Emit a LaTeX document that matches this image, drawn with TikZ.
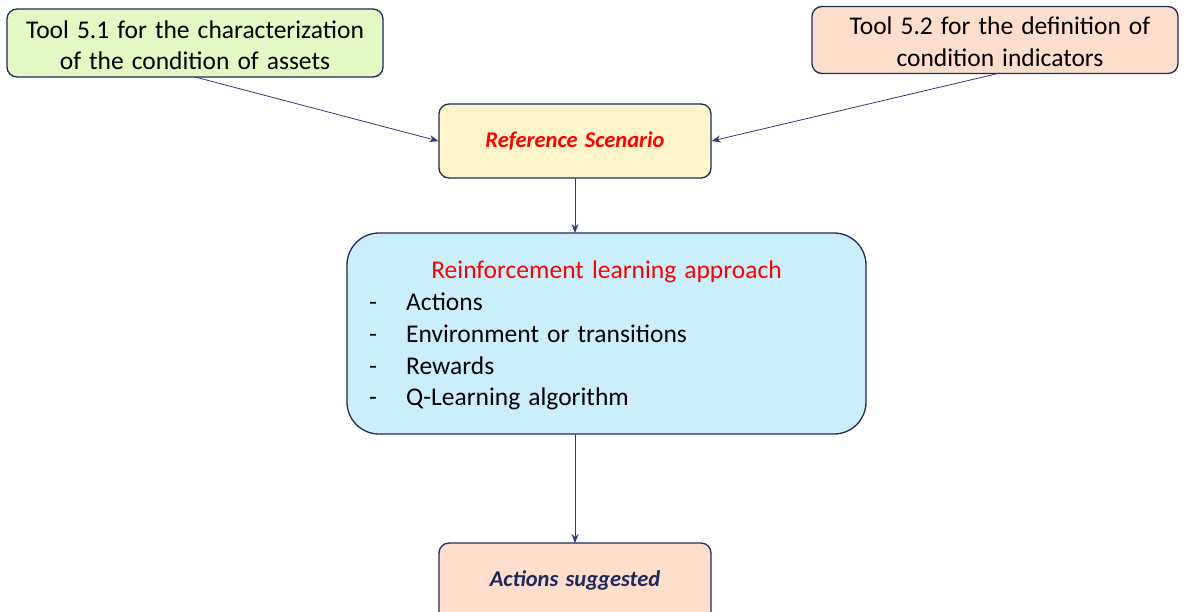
\documentclass[tikz,border=0pt]{standalone}
\usepackage{fontspec}
\setmainfont{Carlito}[WordSpace=1.4]
\usetikzlibrary{arrows.meta}
\definecolor{navy}{HTML}{1F2A5C}
\definecolor{lgreen}{HTML}{E3F8C2}
\definecolor{peach}{HTML}{FDDDCC}
\definecolor{lyellow}{HTML}{FFF4CA}
\definecolor{lblue}{HTML}{CBEEFB}
\definecolor{linec}{HTML}{2E3C7A}
\tikzset{
  box/.style={draw=navy, line width=1.3pt, rounded corners=10pt, inner sep=0pt, align=center},
  conn/.style={draw=linec, line width=0.8pt, -{Stealth[length=9pt,width=7pt]}},
  big/.style={font=\fontsize{25.5}{31}\selectfont},
  emph/.style={font=\fontsize{22.5}{26}\selectfont\bfseries\itshape},
}
\begin{document}
\begin{tikzpicture}[x=1pt,y=-1pt]
\clip (0,0) rectangle (1185,611);
\useasboundingbox (0,0) rectangle (1185,611);
\fill[white] (0,0) rectangle (1185,611);
\node[box, fill=lgreen, minimum width=376pt, minimum height=68pt] (t1) at (195,43) {};
\node[big, align=center, inner sep=0pt] (t1t) at (195,45) {Tool 5.1 for the characterization\\of the condition of assets};
\node[box, fill=peach, minimum width=366pt, minimum height=67pt] (t2) at (995,40) {};
\node[big, align=center, inner sep=0pt, font=\fontsize{25.5}{32}\selectfont] (t2t) at (1000,42) {Tool 5.2 for the definition of\\condition indicators};
\node[box, fill=lyellow, minimum width=272pt, minimum height=74pt, emph, text=red] (ref) at (575,141) {Reference Scenario};
\node[box, fill=lblue, rounded corners=32pt, minimum width=519pt, minimum height=201pt] (rl) at (606.5,333.5) {};
\node[big, text=red, inner sep=0pt] (rlt) at (606.5,272) {Reinforcement learning approach};
\begin{scope}[every node/.style={big, anchor=base west, inner sep=0pt}]
\node (d1) at (369,310) {-};
\node (i1) at (406,310) {Actions};
\node (d2) at (369,342) {-};
\node (i2) at (406,342) {Environment or transitions};
\node (d3) at (369,374) {-};
\node (i3) at (406,374) {Rewards};
\node (d4) at (369,405) {-};
\node (i4) at (406,405) {Q-Learning algorithm};
\end{scope}
\node[box, fill=peach, minimum width=272pt, minimum height=90pt] (act) at (575,588) {};
\node[emph, text=navy] (actt) at (575,580) {Actions suggested};
\coordinate (t1s) at (195,77);
\coordinate (t2s) at (1000,73);
\coordinate (rlb) at (575,434);
\coordinate (rlt2) at (575,233);
\coordinate (refb) at (575,178);
\coordinate (actt2) at (575,543);
\draw[conn] (t1s) -- (ref.west);
\draw[conn] (t2s) -- (ref.east);
\draw[conn] (refb) -- (rlt2);
\draw[conn] (rlb) -- (actt2);
\end{tikzpicture}
\end{document}
